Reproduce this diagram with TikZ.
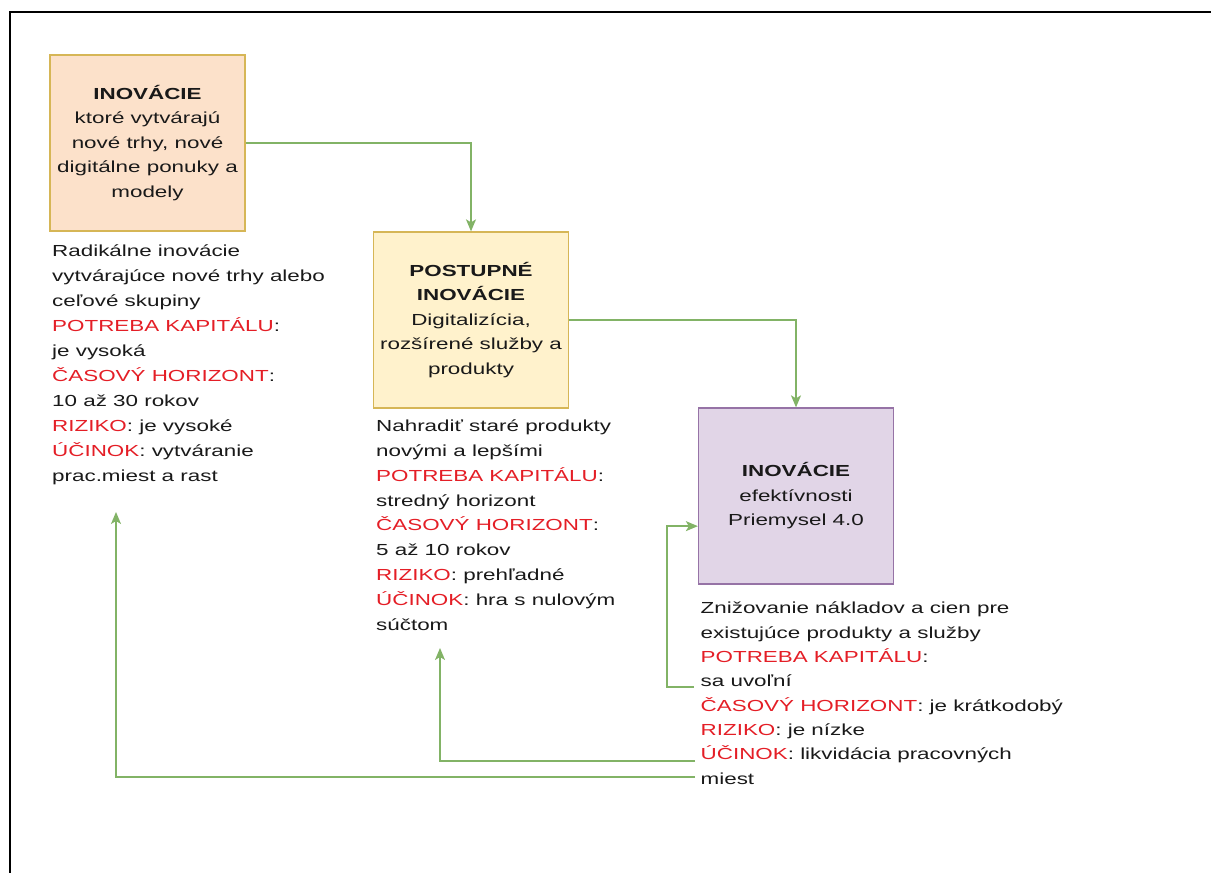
\documentclass[tikz,border=0pt]{standalone}
\usepackage{fontspec}
\newfontfamily\dfont[FakeStretch=1.4]{Liberation Sans}
\usetikzlibrary{arrows.meta,calc}
\definecolor{peach}{RGB}{252,225,202}
\definecolor{lemon}{RGB}{255,242,204}
\definecolor{lilac}{RGB}{225,213,231}
\definecolor{gold}{RGB}{214,182,86}
\definecolor{plum}{RGB}{150,115,166}
\definecolor{arrowgreen}{RGB}{130,179,102}
\definecolor{redtxt}{RGB}{228,30,38}
\definecolor{ink}{RGB}{25,25,25}
\newcommand{\rd}[1]{\textcolor{redtxt}{#1}}
\tikzset{
  box/.style={draw, line width=1.3pt, minimum width=195pt, minimum height=176pt,
    align=center, inner sep=0pt, text=ink, font=\dfont\fontsize{16}{24.5}\selectfont},
  txt/.style={anchor=base west, align=left, inner sep=0pt, text=ink},
  conn/.style={draw=arrowgreen, line width=1.4pt,
    -{Stealth[length=12pt,width=10pt,inset=3pt]}},
  frameline/.style={draw=black, line width=2pt}
}
\begin{document}
\begin{tikzpicture}[x=1pt,y=-1pt]
\useasboundingbox (0,0) rectangle (1211,873);
\draw[frameline] (10,873) -- (10,12) -- (1211,12);

\node[box, fill=peach, draw=gold] (b1) at (147.5,143)
  {\textbf{INOVÁCIE}\\ktoré vytvárajú\\nové trhy, nové\\digitálne ponuky a\\modely};
\node[box, fill=lemon, draw=gold] (b2) at (471,320)
  {\textbf{POSTUPNÉ}\\\textbf{INOVÁCIE}\\Digitalizícia,\\rozšírené služby a\\produkty};
\node[box, fill=lilac, draw=plum] (b3) at (796,496)
  {\textbf{INOVÁCIE}\\efektívnosti\\Priemysel 4.0};

% base west of a multi-line node = baseline of its last line
\node[txt, font=\dfont\fontsize{16}{25}\selectfont] (t1) at (52,481)
  {Radikálne inovácie\\vytvárajúce nové trhy alebo\\ceľové skupiny\\\rd{POTREBA KAPITÁLU}:\\je vysoká\\\rd{ČASOVÝ HORIZONT}:\\10 až 30 rokov\\\rd{RIZIKO}: je vysoké\\\rd{ÚČINOK}: vytváranie\\prac.miest a rast};
\node[txt, font=\dfont\fontsize{16}{24.8}\selectfont] (t2) at (376,630)
  {Nahradiť staré produkty\\novými a lepšími\\\rd{POTREBA KAPITÁLU}:\\stredný horizont\\\rd{ČASOVÝ HORIZONT}:\\5 až 10 rokov\\\rd{RIZIKO}: prehľadné\\\rd{ÚČINOK}: hra s nulovým\\súčtom};
\node[txt, font=\dfont\fontsize{16}{24.3}\selectfont] (t3) at (700.5,784)
  {Znižovanie nákladov a cien pre\\existujúce produkty a služby\\\rd{POTREBA KAPITÁLU}:\\sa uvoľní\\\rd{ČASOVÝ HORIZONT}: je krátkodobý\\\rd{RIZIKO}: je nízke\\\rd{ÚČINOK}: likvidácia pracovných\\miest};

\coordinate (s3) at (694,687);
\coordinate (e3) at ($(b3.north west)!0.67!(b3.south west)$);
\coordinate (s4) at (695,761);
\coordinate (e4) at (440,648);
\coordinate (s5) at (695,777);
\coordinate (e5) at (116,512);

\draw[conn] (b1.east) -| (b2.north);
\draw[conn] (b2.east) -| (b3.north);
\draw[conn] (s3) -- ++(-27,0) |- (e3);
\draw[conn] (s4) -| (e4);
\draw[conn] (s5) -| (e5);
\end{tikzpicture}
\end{document}
